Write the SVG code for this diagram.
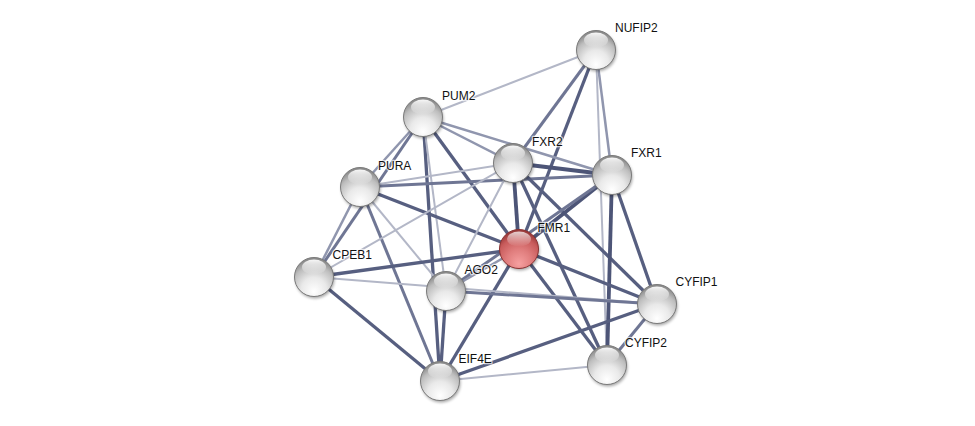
<svg xmlns="http://www.w3.org/2000/svg" width="975" height="426" viewBox="0 0 975 426">
<defs>
<radialGradient id="gw" cx="50%" cy="78%" r="72%" fx="50%" fy="88%">
<stop offset="0" stop-color="#ffffff"/>
<stop offset="0.45" stop-color="#e9e9e9"/>
<stop offset="0.8" stop-color="#bdbdbd"/>
<stop offset="1" stop-color="#8c8c8c"/>
</radialGradient>
<radialGradient id="gr" cx="50%" cy="78%" r="72%" fx="50%" fy="88%">
<stop offset="0" stop-color="#f6a0a0"/>
<stop offset="0.45" stop-color="#e07d7d"/>
<stop offset="0.8" stop-color="#c85b5b"/>
<stop offset="1" stop-color="#9c3c3c"/>
</radialGradient>
<linearGradient id="hl" x1="0" y1="0" x2="0" y2="1">
<stop offset="0" stop-color="#ffffff" stop-opacity="0.95"/>
<stop offset="1" stop-color="#ffffff" stop-opacity="0"/>
</linearGradient>
<filter id="sh" x="-50%" y="-50%" width="200%" height="200%">
<feGaussianBlur stdDeviation="1.5"/>
</filter>
</defs>
<style>
.e{fill:none;stroke-linecap:butt}
.l1{stroke:#b3b7c7;stroke-width:2}
.l2{stroke:#9096ae;stroke-width:2.5}
.l3{stroke:#6f7694;stroke-width:3}
.l4{stroke:#575f80;stroke-width:3.3}
.l5{stroke:#4d5577;stroke-width:3.8}
.shadow{fill:#000;opacity:0.35;filter:url(#sh)}
.rim{stroke:#7a7a7a;stroke-width:1}
.rimr{stroke:#8a3333;stroke-width:1}
.lab{font-family:"Liberation Sans",Arial,sans-serif;font-size:12px;fill:#111;stroke:#fff;stroke-width:2.5;stroke-opacity:0.7;paint-order:stroke;stroke-linejoin:round}
</style>
<rect width="975" height="426" fill="#ffffff"/>
<g id="connectors">
<line class="e l1" x1="596" y1="50" x2="423" y2="117"/>
<line class="e l3" x1="596" y1="50" x2="513" y2="163"/>
<line class="e l4" x1="596" y1="50" x2="519" y2="249"/>
<line class="e l2" x1="596" y1="50" x2="612" y2="175"/>
<line class="e l1" x1="596" y1="50" x2="607" y2="365"/>
<line class="e l2" x1="423" y1="117" x2="360" y2="187"/>
<line class="e l3" x1="423" y1="117" x2="314" y2="277"/>
<line class="e l2" x1="423" y1="117" x2="513" y2="163"/>
<line class="e l2" x1="423" y1="117" x2="612" y2="175"/>
<line class="e l4" x1="423" y1="117" x2="519" y2="249"/>
<line class="e l4" x1="423" y1="117" x2="440" y2="381"/>
<line class="e l1" x1="423" y1="117" x2="446" y2="291"/>
<line class="e l1" x1="360" y1="187" x2="513" y2="163"/>
<line class="e l3" x1="360" y1="187" x2="612" y2="175"/>
<line class="e l4" x1="360" y1="187" x2="519" y2="249"/>
<line class="e l2" x1="360" y1="187" x2="314" y2="277"/>
<line class="e l1" x1="360" y1="187" x2="446" y2="291"/>
<line class="e l3" x1="360" y1="187" x2="440" y2="381"/>
<line class="e l5" x1="513" y1="163" x2="612" y2="175"/>
<line class="e l5" x1="513" y1="163" x2="519" y2="249"/>
<line class="e l4" x1="513" y1="163" x2="657" y2="304"/>
<line class="e l4" x1="513" y1="163" x2="607" y2="365"/>
<line class="e l1" x1="513" y1="163" x2="446" y2="291"/>
<line class="e l1" x1="513" y1="163" x2="314" y2="277"/>
<line class="e l5" x1="612" y1="175" x2="519" y2="249"/>
<line class="e l3" x1="612" y1="175" x2="446" y2="291"/>
<line class="e l4" x1="612" y1="175" x2="657" y2="304"/>
<line class="e l5" x1="612" y1="175" x2="607" y2="365"/>
<line class="e l4" x1="519" y1="249" x2="314" y2="277"/>
<line class="e l2" x1="519" y1="249" x2="446" y2="291"/>
<line class="e l4" x1="519" y1="249" x2="440" y2="381"/>
<line class="e l4" x1="519" y1="249" x2="657" y2="304"/>
<line class="e l4" x1="519" y1="249" x2="607" y2="365"/>
<line class="e l4" x1="314" y1="277" x2="440" y2="381"/>
<line class="e l1" x1="314" y1="277" x2="657" y2="304"/>
<line class="e l3" x1="446" y1="291" x2="657" y2="304"/>
<line class="e l4" x1="446" y1="291" x2="440" y2="381"/>
<line class="e l4" x1="440" y1="381" x2="657" y2="304"/>
<line class="e l1" x1="440" y1="381" x2="607" y2="365"/>
<line class="e l3" x1="657" y1="304" x2="607" y2="365"/>
</g>
<g id="NUFIP2" transform="translate(596,50)">
<circle class="shadow" cx="1" cy="2" r="19.5"/>
<circle class="rim" r="19.5" fill="url(#gw)"/>
<ellipse cx="0" cy="-10" rx="12" ry="7.5" fill="url(#hl)"/>
<text class="lab" x="19" y="-18">NUFIP2</text>
</g>
<g id="PUM2" transform="translate(423,117)">
<circle class="shadow" cx="1" cy="2" r="19.5"/>
<circle class="rim" r="19.5" fill="url(#gw)"/>
<ellipse cx="0" cy="-10" rx="12" ry="7.5" fill="url(#hl)"/>
<text class="lab" x="19" y="-17">PUM2</text>
</g>
<g id="FXR2" transform="translate(513,163)">
<circle class="shadow" cx="1" cy="2" r="19.5"/>
<circle class="rim" r="19.5" fill="url(#gw)"/>
<ellipse cx="0" cy="-10" rx="12" ry="7.5" fill="url(#hl)"/>
<text class="lab" x="19" y="-17.5">FXR2</text>
</g>
<g id="FXR1" transform="translate(612,175)">
<circle class="shadow" cx="1" cy="2" r="19.5"/>
<circle class="rim" r="19.5" fill="url(#gw)"/>
<ellipse cx="0" cy="-10" rx="12" ry="7.5" fill="url(#hl)"/>
<text class="lab" x="19" y="-18">FXR1</text>
</g>
<g id="PURA" transform="translate(360,187)">
<circle class="shadow" cx="1" cy="2" r="19.5"/>
<circle class="rim" r="19.5" fill="url(#gw)"/>
<ellipse cx="0" cy="-10" rx="12" ry="7.5" fill="url(#hl)"/>
<text class="lab" x="18" y="-17.5">PURA</text>
</g>
<g id="FMR1" transform="translate(519,249)">
<circle class="shadow" cx="1" cy="2" r="19.5"/>
<circle class="rimr" r="19.5" fill="url(#gr)"/>
<ellipse cx="0" cy="-10" rx="12" ry="7.5" fill="url(#hl)" opacity="0.8"/>
<text class="lab" x="18.5" y="-17.5">FMR1</text>
</g>
<g id="CPEB1" transform="translate(314,277)">
<circle class="shadow" cx="1" cy="2" r="19.5"/>
<circle class="rim" r="19.5" fill="url(#gw)"/>
<ellipse cx="0" cy="-10" rx="12" ry="7.5" fill="url(#hl)"/>
<text class="lab" x="18.5" y="-18">CPEB1</text>
</g>
<g id="AGO2" transform="translate(446,291)">
<circle class="shadow" cx="1" cy="2" r="19.5"/>
<circle class="rim" r="19.5" fill="url(#gw)"/>
<ellipse cx="0" cy="-10" rx="12" ry="7.5" fill="url(#hl)"/>
<text class="lab" x="18.5" y="-17.5">AGO2</text>
</g>
<g id="CYFIP1" transform="translate(657,304)">
<circle class="shadow" cx="1" cy="2" r="19.5"/>
<circle class="rim" r="19.5" fill="url(#gw)"/>
<ellipse cx="0" cy="-10" rx="12" ry="7.5" fill="url(#hl)"/>
<text class="lab" x="18.5" y="-18">CYFIP1</text>
</g>
<g id="CYFIP2" transform="translate(607,365)">
<circle class="shadow" cx="1" cy="2" r="19.5"/>
<circle class="rim" r="19.5" fill="url(#gw)"/>
<ellipse cx="0" cy="-10" rx="12" ry="7.5" fill="url(#hl)"/>
<text class="lab" x="18" y="-18">CYFIP2</text>
</g>
<g id="EIF4E" transform="translate(440,381)">
<circle class="shadow" cx="1" cy="2" r="19.5"/>
<circle class="rim" r="19.5" fill="url(#gw)"/>
<ellipse cx="0" cy="-10" rx="12" ry="7.5" fill="url(#hl)"/>
<text class="lab" x="18.5" y="-18">EIF4E</text>
</g>
</svg>
